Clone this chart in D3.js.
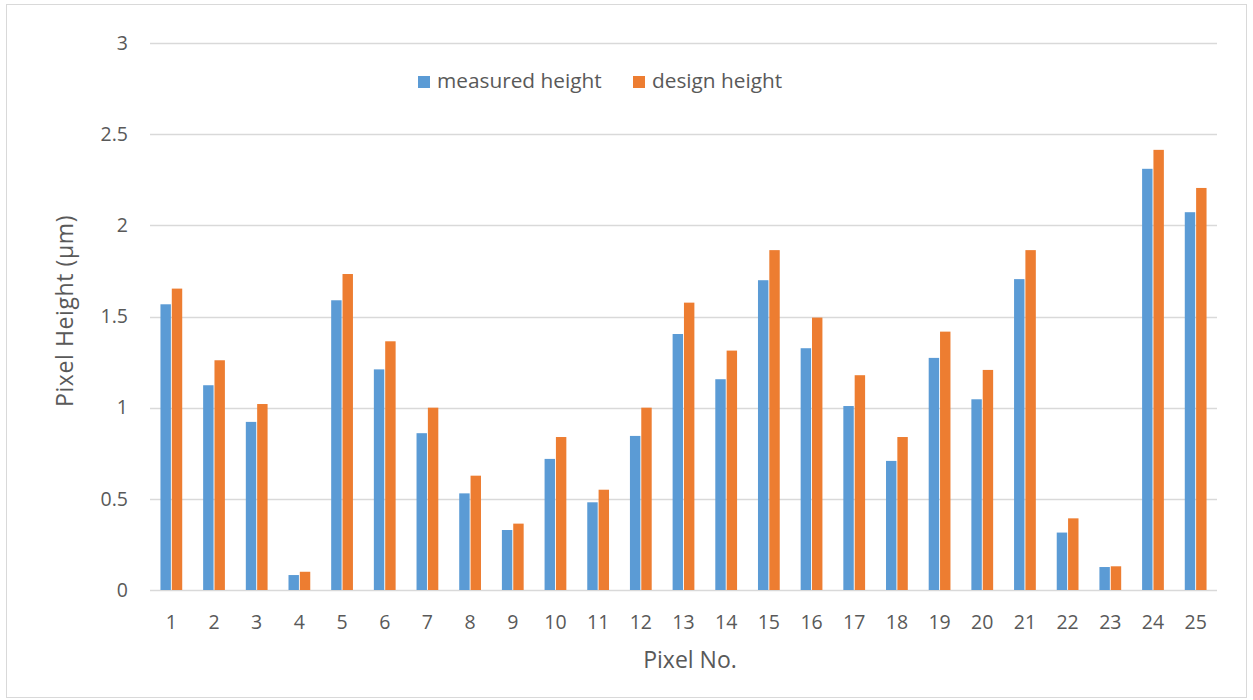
<!DOCTYPE html>
<html>
<head>
<meta charset="utf-8">
<script src="https://cdn.jsdelivr.net/npm/d3@7"></script>
<style>
  html, body { margin: 0; padding: 0; background: #fff; }
  svg { display: block; }
  text { font-family: "Open Sans", sans-serif; fill: #595959; }
</style>
</head>
<body>
<svg id="chart" width="1253" height="700"></svg>
<script>
const categories = ["1","2","3","4","5","6","7","8","9","10","11","12","13","14","15","16","17","18","19","20","21","22","23","24","25"];
const measuredHeight = [1.567,1.123,0.922,0.082,1.589,1.21,0.86,0.53,0.329,0.719,0.481,0.845,1.404,1.156,1.699,1.326,1.009,0.708,1.273,1.046,1.705,0.315,0.126,2.31,2.072];
const designHeight   = [1.653,1.26,1.02,0.10,1.733,1.364,1.0,0.627,0.364,0.839,0.55,1.0,1.576,1.313,1.864,1.494,1.178,0.839,1.417,1.207,1.864,0.393,0.13,2.414,2.205];
const seriesNames = ["measured height","design height"];
const seriesColors = ["#5B9BD5","#ED7D31"];
const yTicks = [0,0.5,1,1.5,2,2.5,3];

const svg = d3.select("#chart");
const W = 1253, H = 700;
const margin = {left:150, right:36, top:43, bottom:110};
const plotW = W - margin.left - margin.right;

svg.append("rect").attr("x",6.5).attr("y",4.5).attr("width",1240).attr("height",693)
  .attr("fill","#fff").attr("stroke","#d9d9d9").attr("stroke-width",1);

const x = d3.scaleBand().domain(categories).range([margin.left, margin.left+plotW]).paddingInner(0.49).paddingOuter(0.245);
const xs = d3.scaleBand().domain(seriesNames).range([0, x.bandwidth()]).paddingInner(0.08);
const y = d3.scaleLinear().domain([0,3]).range([590,43]);

// gridlines
svg.append("g").selectAll("line").data(yTicks).join("line")
  .attr("x1",margin.left).attr("x2",margin.left+plotW)
  .attr("y1",d=>Math.round(y(d))+0.5).attr("y2",d=>Math.round(y(d))+0.5)
  .attr("stroke","#d9d9d9").attr("stroke-width",1.5);

// y axis labels
const yAxis = d3.axisLeft(y).tickValues(yTicks).tickSize(0).tickPadding(0).tickFormat(d=>String(d));
const gy = svg.append("g").attr("transform",`translate(128,0)`).call(yAxis);
gy.select(".domain").remove();
gy.selectAll("text").style("font-size","19.5px").attr("fill","#595959").style("font-family","Open Sans");

// x axis labels
const xAxis = d3.axisBottom(x).tickSize(0).tickPadding(0);
const gx = svg.append("g").attr("transform",`translate(0,615)`).call(xAxis);
gx.select(".domain").remove();
gx.selectAll("text").style("font-size","19.5px").attr("fill","#595959").style("font-family","Open Sans");

// bars
const data = [measuredHeight, designHeight];
seriesNames.forEach((s,i)=>{
  svg.append("g").selectAll("rect").data(categories).join("rect")
    .attr("x",(c)=>x(c)+xs(s))
    .attr("width",xs.bandwidth())
    .attr("y",(c,j)=>y(data[i][j]))
    .attr("height",(c,j)=>y(0)-y(data[i][j]))
    .attr("fill",seriesColors[i]);
});

// axis titles
svg.append("text").attr("transform","translate(73,311) rotate(-90)")
  .attr("text-anchor","middle").style("font-size","23px").style("letter-spacing","0.6px").text("Pixel Height (\u03bcm)");
svg.append("text").attr("x",690).attr("y",668).attr("text-anchor","middle")
  .style("font-size","23px").text("Pixel No.");

// legend
const legendX = [418, 633];
seriesNames.forEach((s,i)=>{
  svg.append("rect").attr("x",legendX[i]).attr("y",76).attr("width",12).attr("height",12).attr("fill",seriesColors[i]);
  svg.append("text").attr("x",legendX[i]+19).attr("y",88).style("font-size","20.8px").text(s);
});
</script>
</body>
</html>
